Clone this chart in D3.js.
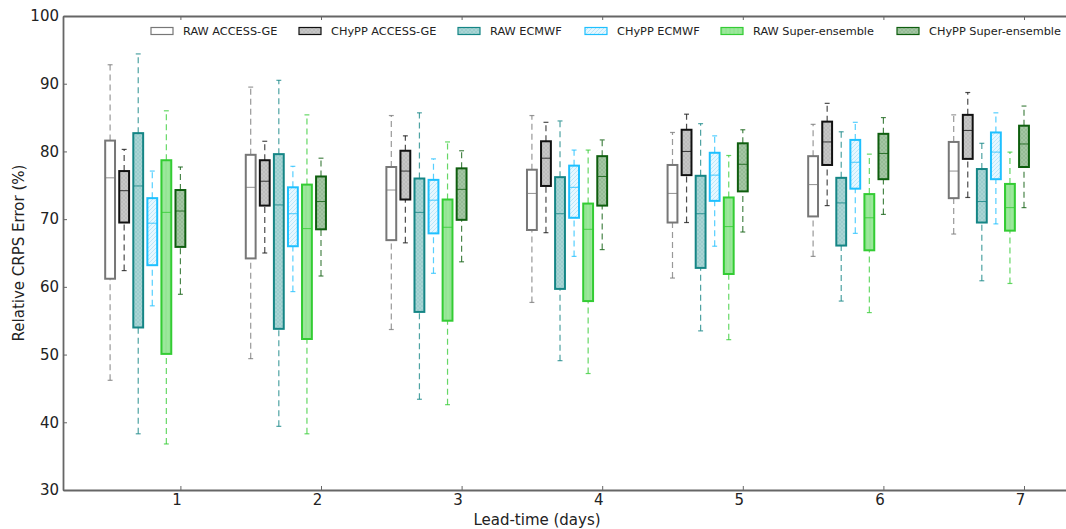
<!DOCTYPE html>
<html>
<head>
<meta charset="utf-8">
<script src="https://cdn.jsdelivr.net/npm/d3@7"></script>
<style>
  body { margin: 0; background: #fff; }
  svg { font-family: 'DejaVu Sans', sans-serif; }
</style>
</head>
<body>
<div id="vis"></div>
<script>
const FRAME_WIDTH = 1066;
const FRAME_HEIGHT = 529;

const days = [1, 2, 3, 4, 5, 6, 7];
const yTicks = [30, 40, 50, 60, 70, 80, 90, 100];
const seriesNames = ['RAW ACCESS-GE', 'CHyPP ACCESS-GE', 'RAW ECMWF', 'CHyPP ECMWF', 'RAW Super-ensemble', 'CHyPP Super-ensemble'];

// each day: [lower whisker, q1, median, q3, upper whisker]
const rawAccess = [
  [46.2, 61.2, 76.1, 81.6, 92.8],
  [49.4, 64.2, 74.7, 79.5, 89.5],
  [53.7, 66.9, 74.3, 77.7, 85.3],
  [57.7, 68.4, 73.8, 77.3, 85.3],
  [61.3, 69.5, 73.8, 78.0, 82.8],
  [64.5, 70.4, 75.1, 79.3, 84.0],
  [67.8, 73.1, 77.1, 81.4, 85.4]
];
const chyppAccess = [
  [62.4, 69.5, 74.2, 77.1, 80.3],
  [65.0, 72.0, 75.6, 78.7, 81.5],
  [66.5, 72.9, 77.1, 80.1, 82.3],
  [68.0, 74.9, 79.0, 81.5, 84.3],
  [69.5, 76.5, 80.0, 83.2, 85.5],
  [72.0, 78.0, 81.4, 84.4, 87.1],
  [73.2, 78.9, 83.1, 85.4, 88.7]
];
const rawEcmwf = [
  [38.3, 54.0, 74.9, 82.7, 94.4],
  [39.4, 53.8, 72.1, 79.6, 90.5],
  [43.4, 56.3, 71.0, 76.0, 85.7],
  [49.1, 59.7, 70.8, 76.2, 84.5],
  [53.5, 62.8, 70.8, 76.4, 84.1],
  [57.9, 66.1, 72.4, 76.1, 82.9],
  [60.9, 69.5, 72.6, 77.4, 81.2]
];
const chyppEcmwf = [
  [57.2, 63.2, 69.4, 73.1, 77.1],
  [59.3, 66.0, 70.8, 74.7, 77.8],
  [62.0, 67.9, 72.8, 75.8, 78.9],
  [64.5, 70.2, 74.7, 77.9, 80.2],
  [66.0, 72.7, 76.5, 79.8, 82.3],
  [67.9, 74.5, 78.4, 81.7, 84.3],
  [69.3, 75.9, 79.9, 82.8, 85.7]
];
const rawSuper = [
  [36.8, 50.1, 71.0, 78.7, 86.0],
  [38.3, 52.3, 68.6, 75.1, 85.4],
  [42.6, 55.0, 68.8, 72.9, 81.4],
  [47.2, 57.9, 68.5, 72.3, 80.2],
  [52.2, 61.9, 68.9, 73.2, 79.4],
  [56.2, 65.4, 70.2, 73.7, 79.6],
  [60.5, 68.3, 71.7, 75.2, 79.9]
];
const chyppSuper = [
  [58.9, 65.9, 71.2, 74.3, 77.7],
  [61.6, 68.5, 72.6, 76.3, 79.0],
  [63.7, 69.9, 74.4, 77.5, 80.1],
  [65.5, 72.0, 76.3, 79.3, 81.7],
  [68.1, 74.1, 78.1, 81.2, 83.2],
  [70.7, 75.9, 79.7, 82.6, 85.0],
  [71.7, 77.7, 81.1, 83.8, 86.7]
];

const seriesData = [rawAccess, chyppAccess, rawEcmwf, chyppEcmwf, rawSuper, chyppSuper];

// edge, fill, hatch colour per series
const STYLES = [
  { edge: '#777777', fill: '#ffffff', hatch: null },
  { edge: '#111111', fill: '#c6c6c6', hatch: '#b2b2b2' },
  { edge: '#148585', fill: '#a9d5d5', hatch: '#8cc4c4' },
  { edge: '#1ec0ff', fill: '#e6f7ff', hatch: '#a8e0f7' },
  { edge: '#33cc33', fill: '#9be89b', hatch: '#8ade8a' },
  { edge: '#0e5e0e', fill: '#a3c6a3', hatch: '#88b088' }
];

const MARGINS = { left: 63, top: 16, bottom: 39 };

const svg = d3.select('#vis')
  .append('svg')
  .attr('width', FRAME_WIDTH)
  .attr('height', FRAME_HEIGHT);

const X_SCALE = d3.scaleLinear()
  .domain([0.165, 7.4])
  .range([MARGINS.left, MARGINS.left + 7.235 * 140.6]);

const Y_SCALE = d3.scaleLinear()
  .domain([30, 100])
  .range([FRAME_HEIGHT - MARGINS.bottom, MARGINS.top]);

// hatch patterns
const defs = svg.append('defs');
STYLES.forEach((s, i) => {
  if (!s.hatch) return;
  const p = defs.append('pattern')
    .attr('id', 'hatch' + i)
    .attr('patternUnits', 'userSpaceOnUse')
    .attr('width', 4).attr('height', 4);
  p.append('rect').attr('width', 4).attr('height', 4).attr('fill', s.fill);
  if (i === 4) {
    p.append('line').attr('x1', 2).attr('y1', 0).attr('x2', 2).attr('y2', 4)
      .attr('stroke', s.hatch).attr('stroke-width', 0.8);
  } else if (i === 3) {
    p.append('path').attr('d', 'M0,4 L4,0').attr('stroke', s.hatch).attr('stroke-width', 0.7);
  } else {
    p.append('path').attr('d', 'M0,4 L4,0 M0,0 L4,4').attr('stroke', s.hatch).attr('stroke-width', 0.5);
  }
});

const BOX_W = 0.07;
const CAP_W = 0.035;

seriesData.forEach((series, si) => {
  const s = STYLES[si];
  const fillRef = s.hatch ? `url(#hatch${si})` : s.fill;
  const g = svg.append('g').attr('class', 'series');
  const boxes = g.selectAll('g.box')
    .data(series.map((d, i) => ({ day: days[i], pos: days[i] - 0.5 + si * 0.1, v: d })))
    .enter()
    .append('g')
    .attr('class', 'box');

  // whiskers
  boxes.append('line')
    .attr('x1', (d) => X_SCALE(d.pos)).attr('x2', (d) => X_SCALE(d.pos))
    .attr('y1', (d) => Y_SCALE(d.v[0])).attr('y2', (d) => Y_SCALE(d.v[1]))
    .attr('stroke', s.edge).attr('stroke-width', 1.2).attr('stroke-dasharray', '6,4')
    .attr('opacity', 0.75);
  boxes.append('line')
    .attr('x1', (d) => X_SCALE(d.pos)).attr('x2', (d) => X_SCALE(d.pos))
    .attr('y1', (d) => Y_SCALE(d.v[3])).attr('y2', (d) => Y_SCALE(d.v[4]))
    .attr('stroke', s.edge).attr('stroke-width', 1.2).attr('stroke-dasharray', '6,4')
    .attr('opacity', 0.75);
  // caps
  [0, 4].forEach((k) => {
    boxes.append('line')
      .attr('x1', (d) => X_SCALE(d.pos - CAP_W / 2)).attr('x2', (d) => X_SCALE(d.pos + CAP_W / 2))
      .attr('y1', (d) => Y_SCALE(d.v[k])).attr('y2', (d) => Y_SCALE(d.v[k]))
      .attr('stroke', s.edge).attr('stroke-width', 1.2).attr('opacity', 0.75);
  });
  // box
  boxes.append('rect')
    .attr('x', (d) => X_SCALE(d.pos - BOX_W / 2))
    .attr('y', (d) => Y_SCALE(d.v[3]))
    .attr('width', X_SCALE(BOX_W) - X_SCALE(0))
    .attr('height', (d) => Y_SCALE(d.v[1]) - Y_SCALE(d.v[3]))
    .attr('fill', fillRef)
    .attr('stroke', s.edge).attr('stroke-width', 2);
  // median
  boxes.append('line')
    .attr('x1', (d) => X_SCALE(d.pos - BOX_W / 2)).attr('x2', (d) => X_SCALE(d.pos + BOX_W / 2))
    .attr('y1', (d) => Y_SCALE(d.v[2])).attr('y2', (d) => Y_SCALE(d.v[2]))
    .attr('stroke', s.edge).attr('stroke-width', 1).attr('opacity', 0.8);
});

// axes
const AXIS_COLOR = '#666';
const yAxis = svg.append('g')
  .attr('transform', `translate(${MARGINS.left},0)`)
  .call(d3.axisLeft(Y_SCALE).tickValues(yTicks).tickSize(-4).tickPadding(4).tickSizeOuter(0));
const xAxis = svg.append('g')
  .attr('transform', `translate(0,${FRAME_HEIGHT - MARGINS.bottom})`)
  .call(d3.axisBottom(X_SCALE).tickValues(days).tickSize(-4).tickPadding(4).tickSizeOuter(0));
const xTop = svg.append('g')
  .attr('transform', `translate(0,${MARGINS.top})`)
  .call(d3.axisTop(X_SCALE).tickValues(days).tickSize(-4).tickSizeOuter(0).tickFormat(''));

[yAxis, xAxis, xTop].forEach((a) => {
  a.select('.domain').attr('stroke', AXIS_COLOR).attr('stroke-width', 1.8);
  a.selectAll('.tick line').attr('stroke', AXIS_COLOR);
  a.selectAll('.tick text').attr('fill', '#222').attr('font-size', 15).attr('font-family', 'DejaVu Sans');
});
xAxis.selectAll('.tick text').attr('dx', -4);

svg.append('text')
  .attr('transform', `translate(24,${(Y_SCALE(30) + Y_SCALE(100)) / 2}) rotate(-90)`)
  .attr('text-anchor', 'middle')
  .attr('font-size', 15).attr('fill', '#222')
  .text('Relative CRPS Error (%)');

svg.append('text')
  .attr('x', 537).attr('y', 525)
  .attr('text-anchor', 'middle')
  .attr('font-size', 15).attr('fill', '#222')
  .text('Lead-time (days)');

// legend
const legendX = [151, 299, 458, 585, 721, 897];
const legend = svg.append('g').attr('class', 'legend');
seriesNames.forEach((name, i) => {
  const s = STYLES[i];
  legend.append('rect')
    .attr('x', legendX[i]).attr('y', 27.5)
    .attr('width', 22).attr('height', 7)
    .attr('fill', s.hatch ? `url(#hatch${i})` : s.fill)
    .attr('stroke', s.edge).attr('stroke-width', 1.2);
  legend.append('text')
    .attr('x', legendX[i] + 32).attr('y', 31)
    .attr('dy', '0.35em')
    .attr('font-size', 11.3).attr('fill', '#222')
    .text(name);
});
</script>
</body>
</html>
